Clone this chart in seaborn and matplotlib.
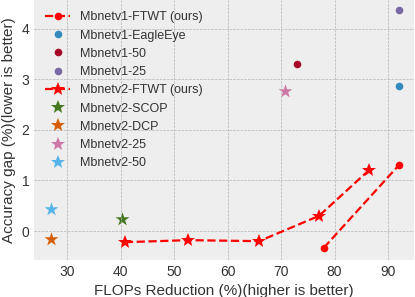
import matplotlib
matplotlib.use("Agg")
import matplotlib.pyplot as plt
from matplotlib.lines import Line2D
import seaborn as sns
import pandas as pd

# FLOPs reduction (%) and accuracy gap (%)
v1_ftwt_x = [78.0, 92.1]
v1_ftwt_y = [-0.33, 1.31]
v2_ftwt_x = [40.8, 52.6, 65.9, 77.1, 86.4]
v2_ftwt_y = [-0.22, -0.18, -0.20, 0.30, 1.20]

baseline_names = ["Mbnetv1-EagleEye", "Mbnetv1-50", "Mbnetv1-25",
                  "Mbnetv2-SCOP", "Mbnetv2-DCP", "Mbnetv2-25", "Mbnetv2-50"]
baseline_x = [92.1, 73.0, 92.1, 40.3, 27.0, 70.7, 27.0]
baseline_y = [2.87, 3.31, 4.38, 0.24, -0.15, 2.78, 0.44]
baseline_marker = ["o", "o", "o", "*", "*", "*", "*"]
baseline_color = ["#348ABD", "#A60628", "#7A68A6", "#467821",
                  "#D55E00", "#CC79A7", "#56B4E9"]

plt.style.use("bmh")
plt.rcParams["font.family"] = ["Liberation Sans", "DejaVu Sans"]
plt.rcParams["figure.facecolor"] = "white"
text_col = "#333333"

fig, ax = plt.subplots(figsize=(4.15, 2.97), dpi=100)

v1 = pd.DataFrame({"x": v1_ftwt_x, "y": v1_ftwt_y})
v2 = pd.DataFrame({"x": v2_ftwt_x, "y": v2_ftwt_y})

line_kw = dict(color="red", linestyle="--", linewidth=1.6, markeredgewidth=0)
sns.lineplot(data=v1, x="x", y="y", ax=ax, marker="o", markersize=5.5,
             legend=False, **line_kw)
sns.lineplot(data=v2, x="x", y="y", ax=ax, marker="*", markersize=10,
             legend=False, **line_kw)

sizes = {"o": 30, "*": 110}
for i in range(len(baseline_names)):
    sns.scatterplot(x=[baseline_x[i]], y=[baseline_y[i]], ax=ax,
                    color=baseline_color[i], marker=baseline_marker[i],
                    s=sizes[baseline_marker[i]], linewidth=0, legend=False)

# legend in the reference order
handles = [Line2D([], [], marker="o", markersize=5.5, **line_kw)]
labels = ["Mbnetv1-FTWT (ours)"]
for i in range(3):
    handles.append(Line2D([], [], linestyle="none", marker="o", markersize=5.5,
                          color=baseline_color[i], markeredgewidth=0))
    labels.append(baseline_names[i])
handles.append(Line2D([], [], marker="*", markersize=10, **line_kw))
labels.append("Mbnetv2-FTWT (ours)")
for i in range(3, 7):
    handles.append(Line2D([], [], linestyle="none", marker="*", markersize=10,
                          color=baseline_color[i], markeredgewidth=0))
    labels.append(baseline_names[i])

ax.set_xlim(23.8, 94.9)
ax.set_ylim(-0.57, 4.57)
ax.set_xticks([30, 40, 50, 60, 70, 80, 90])
ax.set_yticks([0, 1, 2, 3, 4])
ax.set_xlabel("FLOPs Reduction (%)(higher is better)", fontsize=11, color=text_col)
ax.set_ylabel("Accuracy gap (%)(lower is better)", fontsize=11, color=text_col)
ax.tick_params(labelsize=10, length=0, colors=text_col)
for s in ax.spines.values():
    s.set_visible(False)
leg = ax.legend(handles, labels, loc="upper left", fontsize=9, frameon=False,
                numpoints=1)
for t in leg.get_texts():
    t.set_color(text_col)

fig.subplots_adjust(left=0.082, right=0.998, top=1.0, bottom=0.125)
fig.savefig("out.png", dpi=100)
